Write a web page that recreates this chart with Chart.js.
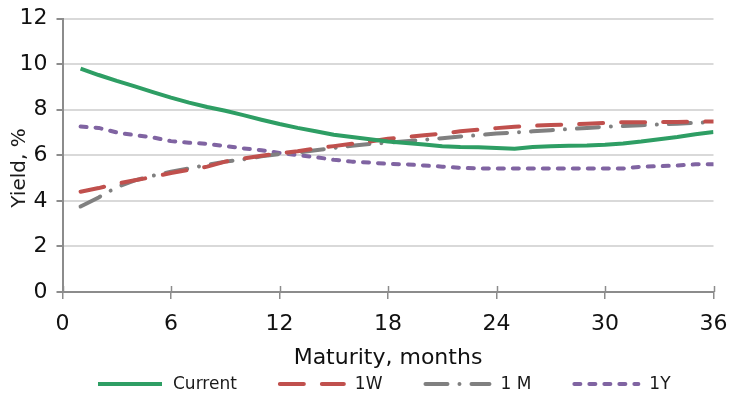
<!DOCTYPE html>
<html>
<head>
<meta charset="utf-8">
<script src="https://cdn.jsdelivr.net/npm/chart.js@4.4.1/dist/chart.umd.min.js"></script>
<style>
  html, body { margin: 0; padding: 0; background: #ffffff; }
  #wrap { width: 731px; height: 394px; position: relative; }
</style>
</head>
<body>
<div id="wrap"><canvas id="c" width="731" height="394"></canvas></div>
<script>
// Maturity in months (x) and yields in percent (y)
const maturities = [1,2,3,4,5,6,7,8,9,10,11,12,13,14,15,16,17,18,19,20,21,22,23,24,25,26,27,28,29,30,31,32,33,34,35,36];
const current  = [9.80,9.52,9.26,9.02,8.77,8.53,8.31,8.12,7.95,7.76,7.56,7.37,7.20,7.05,6.90,6.80,6.70,6.60,6.54,6.47,6.40,6.36,6.35,6.32,6.29,6.36,6.40,6.42,6.43,6.46,6.52,6.60,6.70,6.80,6.92,7.02];
const oneWeek  = [4.40,4.56,4.75,4.90,5.05,5.22,5.36,5.50,5.72,5.86,5.98,6.08,6.18,6.30,6.40,6.50,6.60,6.72,6.80,6.88,6.95,7.05,7.12,7.19,7.25,7.29,7.33,7.35,7.38,7.42,7.45,7.45,7.46,7.46,7.47,7.48];
const oneMonth = [3.75,4.15,4.60,4.90,5.10,5.28,5.42,5.58,5.72,5.82,5.95,6.05,6.12,6.22,6.32,6.42,6.50,6.55,6.62,6.68,6.75,6.82,6.88,6.95,7.00,7.05,7.10,7.15,7.20,7.25,7.28,7.32,7.35,7.38,7.42,7.45];
const oneYear  = [7.26,7.20,7.00,6.88,6.78,6.62,6.55,6.50,6.40,6.30,6.22,6.10,6.00,5.92,5.80,5.72,5.68,5.62,5.60,5.55,5.50,5.45,5.42,5.42,5.42,5.42,5.42,5.42,5.42,5.42,5.42,5.50,5.52,5.55,5.60,5.60];
const seriesNames = ['Current', '1W', '1 M', '1Y'];
const xTickStep = 6;
const yTickStep = 2;
const xRange = [0, 36];
const yRange = [0, 12];
const xTitle = 'Maturity, months';
const yTitle = 'Yield, %';

const FONT = "'DejaVu Sans', Verdana, sans-serif";
const AXIS_GREY = '#8c8c8c';

const toPoints = ys => maturities.map((m, i) => ({ x: m, y: ys[i] }));

const styles = [
  { color: '#2e9e64', dash: [] },
  { color: '#c0504d', dash: [24, 18] },
  { color: '#808080', dash: [22, 12, 0.01, 12] },
  { color: '#8064a2', dash: [6, 9] }
];

const datasets = [current, oneWeek, oneMonth, oneYear].map((ys, i) => ({
  label: seriesNames[i],
  data: toPoints(ys),
  borderColor: styles[i].color,
  backgroundColor: styles[i].color,
  borderWidth: 4,
  borderDash: styles[i].dash,
  borderCapStyle: i === 0 ? 'butt' : 'round',
  borderJoinStyle: 'round',
  pointRadius: 0,
  tension: 0,
  fill: false,
  order: i
}));

// Bottom legend: a short stroke in each series' style followed by its name
const lineLegend = {
  id: 'lineLegend',
  afterDraw(chart) {
    const ctx = chart.ctx;
    const y = 384;
    let x = 96;
    ctx.save();
    ctx.font = '17px ' + FONT;
    ctx.textBaseline = 'middle';
    ctx.fillStyle = '#1a1a1a';
    chart.data.datasets.forEach(ds => {
      ctx.save();
      ctx.strokeStyle = ds.borderColor;
      ctx.lineWidth = ds.borderWidth;
      ctx.lineCap = ds.borderCapStyle;
      ctx.setLineDash(ds.borderDash);
      ctx.beginPath();
      ctx.moveTo(x + 2, y);
      ctx.lineTo(x + 66, y);
      ctx.stroke();
      ctx.restore();
      x += 77;
      ctx.fillText(ds.label, x, y + 1);
      x += ctx.measureText(ds.label).width + 41;
    });
    ctx.restore();
  }
};

// Rotated y axis caption
const yCaption = {
  id: 'yCaption',
  afterDraw(chart) {
    const ctx = chart.ctx;
    ctx.save();
    ctx.translate(20, 168);
    ctx.rotate(-Math.PI / 2);
    ctx.font = '20px ' + FONT;
    ctx.fillStyle = '#1a1a1a';
    ctx.textAlign = 'center';
    ctx.textBaseline = 'middle';
    ctx.fillText(yTitle, 0, 0);
    ctx.restore();
  }
};

// Tick marks on the x axis cross the axis line
const xCrossTicks = {
  id: 'xCrossTicks',
  afterDatasetsDraw(chart) {
    const sx = chart.scales.x;
    const ctx = chart.ctx;
    const base = chart.chartArea.bottom;
    ctx.save();
    ctx.strokeStyle = AXIS_GREY;
    ctx.lineWidth = 1.5;
    sx.ticks.forEach(t => {
      const px = Math.round(sx.getPixelForValue(t.value)) + 0.5;
      ctx.beginPath();
      ctx.moveTo(px, base - 6);
      ctx.lineTo(px, base);
      ctx.stroke();
    });
    ctx.restore();
  }
};

new Chart(document.getElementById('c'), {
  type: 'line',
  data: { datasets },
  options: {
    responsive: false,
    animation: false,
    devicePixelRatio: 1,
    layout: { padding: { left: 0, right: 17.5, top: 18.5, bottom: 22 } },
    plugins: { legend: { display: false }, tooltip: { enabled: false }, title: { display: false } },
    scales: {
      x: {
        type: 'linear',
        min: xRange[0], max: xRange[1],
        ticks: { stepSize: xTickStep, color: '#111', font: { family: FONT, size: 22 }, padding: 12, maxRotation: 0 },
        grid: { drawOnChartArea: false, tickLength: 7, tickColor: AXIS_GREY, lineWidth: 1.5 },
        border: { display: true, color: AXIS_GREY, width: 2 },
        title: { display: true, text: xTitle, color: '#111', font: { family: FONT, size: 22 }, padding: { top: 0, bottom: 1 } },
        afterFit(scale) {
          scale.height = 80;
          scale.paddingLeft = 0;
          scale.paddingRight = 0;
        }
      },
      y: {
        min: yRange[0], max: yRange[1],
        ticks: { stepSize: yTickStep, color: '#111', font: { family: FONT, size: 22 }, padding: 9 },
        grid: { color: '#d9d9d9', lineWidth: 2, tickLength: 6, tickColor: AXIS_GREY },
        border: { display: true, color: AXIS_GREY, width: 2 },
        afterFit(scale) {
          scale.width = 62.5;
          scale.paddingTop = 0;
          scale.paddingBottom = 0;
        }
      }
    }
  },
  plugins: [lineLegend, yCaption, xCrossTicks]
});
</script>
</body>
</html>
